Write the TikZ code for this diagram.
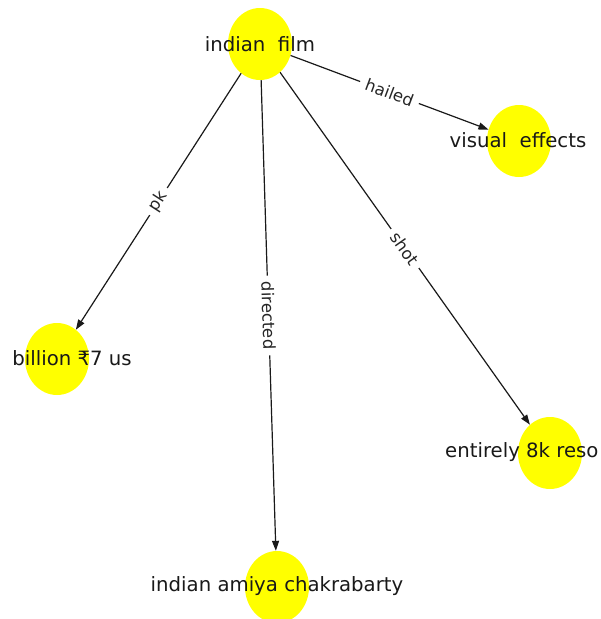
\documentclass[tikz,border=0pt]{standalone}
\usepackage{fontspec}
\setmainfont{DejaVu Sans}
\usetikzlibrary{shapes.geometric,arrows.meta}
\definecolor{nodeyellow}{RGB}{255,255,0}
\begin{document}
\begin{tikzpicture}[x=1pt,y=-1pt,
  ent/.style={ellipse, fill=nodeyellow, minimum width=64pt, minimum height=72pt, inner sep=0pt},
  lbl/.style={font=\fontsize{19.7}{23}\selectfont, text=black!90, inner sep=0pt},
  rel/.style={draw=black!90, line width=1.2pt, -{Triangle[length=10pt,width=7pt]}},
  rlbl/.style={sloped, fill=white, rounded corners=4pt, inner xsep=6pt, inner ysep=2pt,
    font=\fontsize{16.5}{19}\selectfont, text=black!85}]
\useasboundingbox (0,0) rectangle (601,619);
\clip (0,0) rectangle (601,619);

% entities
\node[ent] (film)  at (260,44)  {};
\node[ent] (vfx)   at (519,141) {};
\node[ent] (bill)  at (57,359)  {};
\node[ent] (reso)  at (550,453) {};
\node[ent] (amiya) at (277,587) {};

% relations
\draw[rel] (film) -- node[rlbl] {hailed}   (vfx);
\draw[rel] (film) -- node[rlbl] {pk}       (bill);
\draw[rel] (film) -- node[rlbl] {directed} (amiya);
\draw[rel] (film) -- node[rlbl] {shot}     (reso);

% entity names
\node[lbl] (filmtxt)  at (260,44)  {indian\ \ film};
\node[lbl] (vfxtxt)   at (518,140) {visual\ \ effects};
\node[lbl] (billtxt)  at (72,358)  {billion ₹7 us};
\node[lbl, anchor=west] (resotxt) at (445,452) {entirely 8k reso};
\node[lbl] (amiyatxt) at (277,586) {indian amiya chakrabarty};
\end{tikzpicture}
\end{document}
